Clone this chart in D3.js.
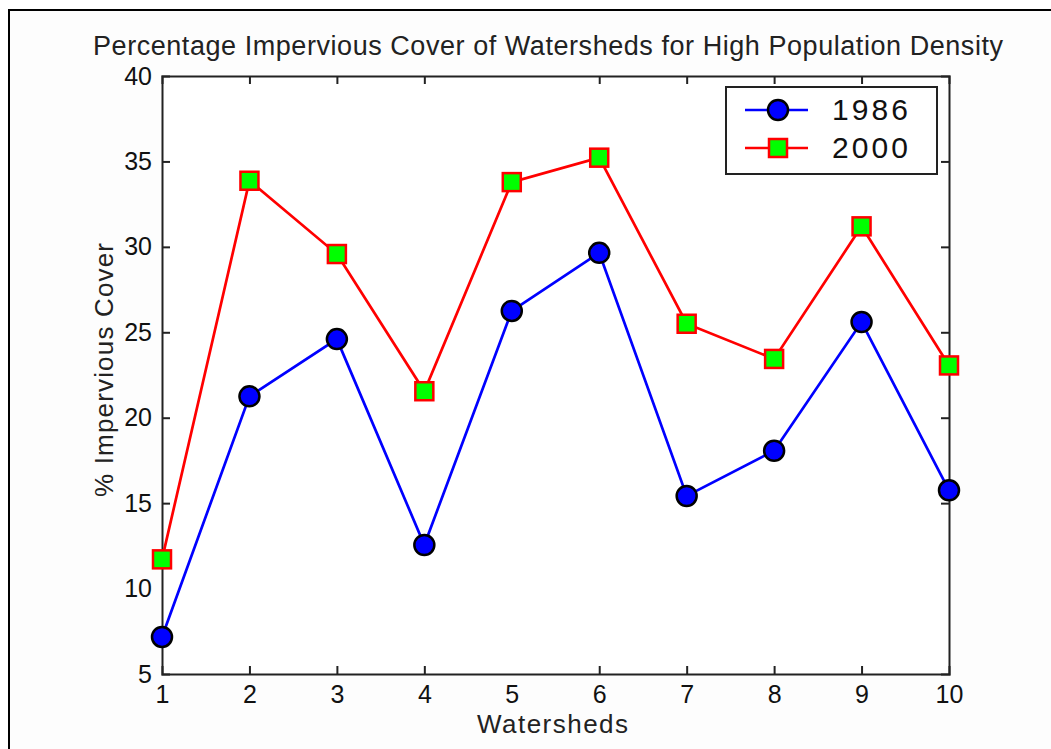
<!DOCTYPE html>
<html>
<head>
<meta charset="utf-8">
<script src="https://cdn.jsdelivr.net/npm/d3@7"></script>
<style>
  body { margin: 0; background: #fff; }
  svg { display: block; font-family: "Liberation Sans", Arial, sans-serif; }
</style>
</head>
<body>
<svg id="chart"></svg>
<script>
// data
const watersheds = [1, 2, 3, 4, 5, 6, 7, 8, 9, 10];
const cover1986 = [7.17, 21.25, 24.6, 12.55, 26.25, 29.65, 15.42, 18.07, 25.6, 15.75];
const cover2000 = [11.71, 33.87, 29.58, 21.55, 33.79, 35.22, 25.5, 23.44, 31.2, 23.06];
const yTicks = [5, 10, 15, 20, 25, 30, 35, 40];
const seriesNames = ["1986", "2000"];

const width = 1051, height = 749;
const margin = {top: 76, right: 102, bottom: 75, left: 162};

let svg = d3.select("#chart")
    .attr("width", width)
    .attr("height", height);

// figure frame (only left and top edges are visible)
svg.append("rect")
    .attr("x", 9).attr("y", 10)
    .attr("width", width + 20).attr("height", height + 20)
    .attr("fill", "#fdfdfd")
    .attr("stroke", "#000")
    .attr("stroke-width", 2);

let x = d3.scaleLinear()
    .domain([1, 10])
    .range([margin.left, width - margin.right]);

let y = d3.scaleLinear()
    .domain([5, 40])
    .range([height - margin.bottom, margin.top]);

let plot = svg.append("g");

plot.append("rect")
    .attr("x", x(1)).attr("y", y(40))
    .attr("width", x(10) - x(1)).attr("height", y(5) - y(40))
    .attr("fill", "#fff");

// axes with inward ticks, mirrored on top and right
let tickLen = 8;
let bottomAxis = d3.axisBottom(x).tickValues(watersheds).tickSize(-tickLen).tickPadding(11).tickFormat(d3.format("d"));
let topAxis = d3.axisTop(x).tickValues(watersheds).tickSize(-tickLen).tickFormat("");
let leftAxis = d3.axisLeft(y).tickValues(yTicks).tickSize(-tickLen).tickPadding(10).tickFormat(d3.format("d"));
let rightAxis = d3.axisRight(y).tickValues(yTicks).tickSize(-tickLen).tickFormat("");

function styleAxis(g) {
    g.attr("font-family", null).attr("font-size", null);
    g.select(".domain").attr("stroke", "#222").attr("stroke-width", 2);
    g.selectAll(".tick line").attr("stroke", "#222").attr("stroke-width", 2);
    g.selectAll(".tick text")
        .attr("fill", "#111")
        .style("font-family", "'Liberation Sans Narrow', 'Liberation Sans', Arial, sans-serif")
        .style("font-size", "25px");
}

plot.append("g").attr("transform", "translate(0," + y(5) + ")").call(bottomAxis).call(styleAxis);
plot.append("g").attr("transform", "translate(0," + y(40) + ")").call(topAxis).call(styleAxis);
plot.append("g").attr("transform", "translate(" + x(1) + ",0)").call(leftAxis).call(styleAxis);
plot.append("g").attr("transform", "translate(" + x(10) + ",0)").call(rightAxis).call(styleAxis);

// remove end ticks at corners so outline stays clean
plot.selectAll(".tick").filter(d => d === 1 || d === 10 || d === 5 || d === 40).select("line").remove();

let line = d3.line()
    .x((d, i) => x(watersheds[i]))
    .y(d => y(d));

// 2000 series
plot.append("path")
    .datum(cover2000)
    .attr("fill", "none")
    .attr("stroke", "#ff0000")
    .attr("stroke-width", 2.7)
    .attr("d", line);

// 1986 series
plot.append("path")
    .datum(cover1986)
    .attr("fill", "none")
    .attr("stroke", "#0000ff")
    .attr("stroke-width", 2.7)
    .attr("d", line);

let sq = 18;
plot.selectAll("rect.m2000")
    .data(cover2000)
    .enter()
    .append("rect")
    .attr("class", "m2000")
    .attr("x", (d, i) => x(watersheds[i]) - sq / 2)
    .attr("y", d => y(d) - sq / 2)
    .attr("width", sq).attr("height", sq)
    .attr("fill", "#00ff00")
    .attr("stroke", "#ff0000")
    .attr("stroke-width", 2.5);

plot.selectAll("circle.m1986")
    .data(cover1986)
    .enter()
    .append("circle")
    .attr("class", "m1986")
    .attr("cx", (d, i) => x(watersheds[i]))
    .attr("cy", d => y(d))
    .attr("r", 10)
    .attr("fill", "#0000ff")
    .attr("stroke", "#000")
    .attr("stroke-width", 2.5);

// legend
let legend = svg.append("g");
legend.append("rect")
    .attr("x", 726).attr("y", 87)
    .attr("width", 211).attr("height", 87)
    .attr("fill", "#fff")
    .attr("stroke", "#222")
    .attr("stroke-width", 2);

let rows = [
    {name: seriesNames[0], color: "#0000ff", y: 110},
    {name: seriesNames[1], color: "#ff0000", y: 148}
];
rows.forEach((r, i) => {
    legend.append("line")
        .attr("x1", 745).attr("x2", 808)
        .attr("y1", r.y).attr("y2", r.y)
        .attr("stroke", r.color).attr("stroke-width", 2.7);
    if (i === 0) {
        legend.append("circle")
            .attr("cx", 778).attr("cy", r.y).attr("r", 10)
            .attr("fill", "#0000ff").attr("stroke", "#000").attr("stroke-width", 2.5);
    } else {
        legend.append("rect")
            .attr("x", 778 - sq / 2).attr("y", r.y - sq / 2)
            .attr("width", sq).attr("height", sq)
            .attr("fill", "#00ff00").attr("stroke", "#ff0000").attr("stroke-width", 2.5);
    }
    legend.append("text")
        .attr("x", 832).attr("y", r.y + 10)
        .attr("textLength", 76).attr("lengthAdjust", "spacing")
        .style("font-size", "30px")
        .attr("fill", "#111")
        .text(r.name);
});

// title and labels
svg.append("text")
    .attr("x", 93).attr("y", 55)
    .attr("textLength", 910).attr("lengthAdjust", "spacing")
    .style("font-size", "27px")
    .attr("fill", "#222")
    .text("Percentage Impervious Cover of Watersheds for High Population Density");

svg.append("text")
    .attr("x", 477).attr("y", 733)
    .attr("textLength", 151).attr("lengthAdjust", "spacing")
    .style("font-size", "26px")
    .attr("fill", "#222")
    .text("Watersheds");

svg.append("text")
    .attr("transform", "translate(113,497) rotate(-90)")
    .attr("textLength", 254).attr("lengthAdjust", "spacing")
    .style("font-size", "26px")
    .attr("fill", "#222")
    .text("% Impervious Cover");
</script>
</body>
</html>
